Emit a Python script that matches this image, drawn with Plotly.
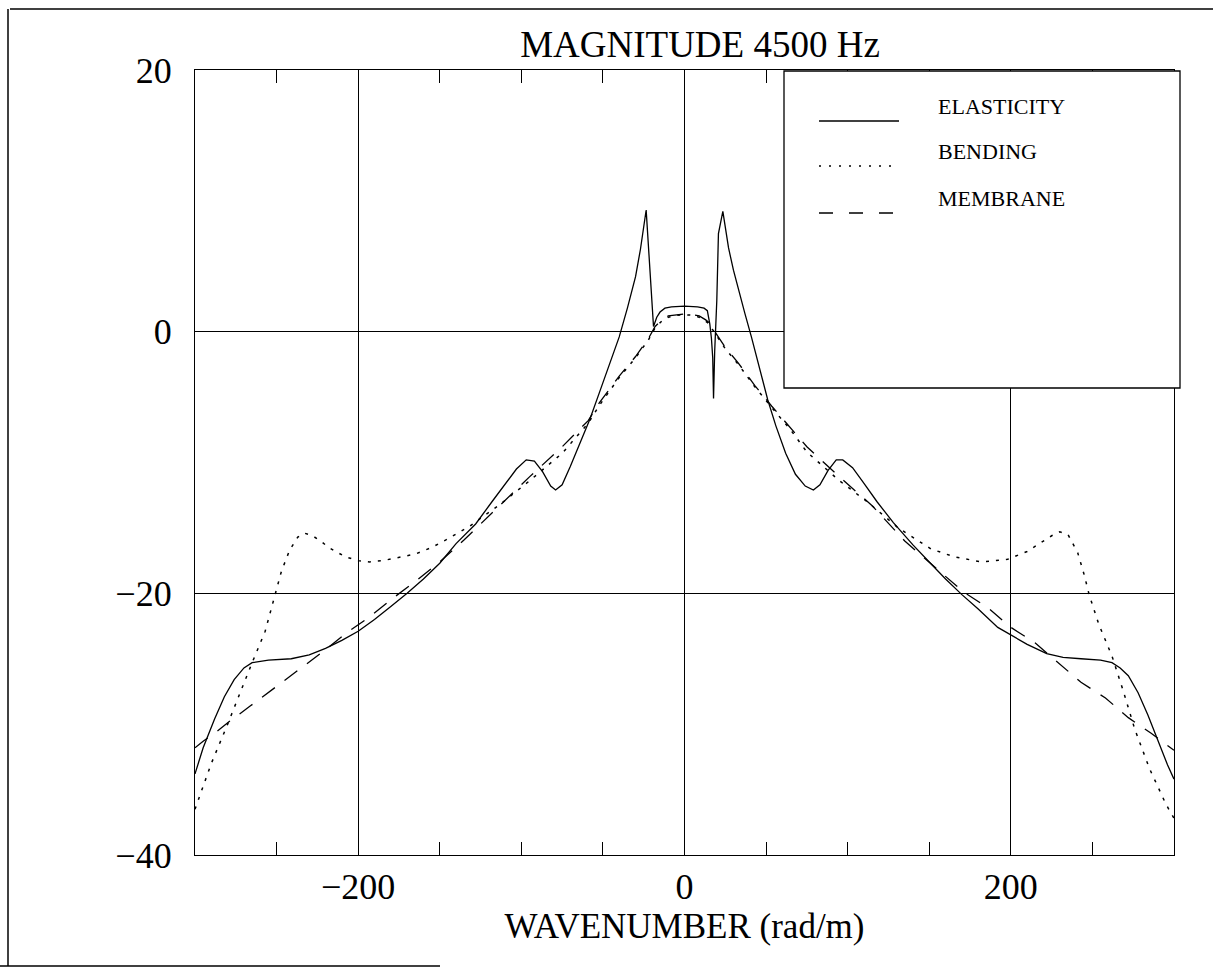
import plotly.graph_objects as go

# ---------------- data ----------------
elast_k = [-300, -295, -288, -282, -276, -270, -265, -255, -241, -230, -220, -210, -200,
           -190, -180, -170, -160, -150, -140, -128, -118, -110, -103, -97, -92, -87,
           -82, -79, -75, -70, -64, -58, -52, -46, -40, -35, -30, -27, -25, -23.5,
           -19, -17, -15, -12, -8, 0, 8, 12, 14, 15.5, 16.5, 17.3, 17.8, 18.5, 19.8,
           20.8, 23.5, 27, 30, 33, 37, 41, 46, 51, 56, 62, 68, 74, 79, 83, 88, 93, 97,
           103, 110, 118, 128, 140, 150, 160, 170, 180, 192, 200, 210, 222, 232, 243,
           255, 262, 267, 272, 278, 284, 290, 296, 300]
elast_v = [-33.8, -31.8, -29.6, -27.9, -26.6, -25.7, -25.3, -25.1, -25.0, -24.7, -24.2,
           -23.6, -22.9, -22.0, -21.0, -20.0, -18.9, -17.7, -16.2, -14.7, -13.0, -11.7,
           -10.5, -9.8, -9.9, -10.7, -11.8, -12.1, -11.7, -10.3, -8.5, -6.7, -4.6, -2.5,
           -0.4, 1.8, 4.2, 6.3, 8.0, 9.3,
           0.4, 1.1, 1.5, 1.8, 1.9, 1.95, 1.9, 1.8, 1.6, 0.6, -0.5, -2.0, -5.1, -1.5, 2.4,
           7.5, 9.2, 6.4, 4.7, 3.2, 1.4, -0.4, -2.8, -5.2, -7.2, -9.3, -10.9, -11.8,
           -12.1, -11.7, -10.6, -9.8, -9.8, -10.4, -11.6, -13.0, -14.6, -16.3, -17.6,
           -18.9, -20.1, -21.2, -22.6, -23.2, -23.9, -24.6, -24.9, -25.0, -25.1, -25.3,
           -25.7, -26.3, -27.6, -29.3, -31.2, -33.1, -34.2]

bend_k = [-300, -298, -290, -280, -270, -265, -257, -252, -247, -242, -237, -233, -228,
          -223, -218, -208, -200, -193, -185, -177, -165, -155, -146, -132, -112, -95,
          -75, -59, -52, -40, -30, -22, -18, -14, -10, -5, 0, 5, 9, 13, 15, 17, 19, 25,
          33, 43, 53.5, 65, 75, 95, 112, 131, 151, 165, 182, 198, 210, 219, 225, 230,
          235, 241, 245, 248, 254, 262, 269, 276, 285, 295, 300]
bend_v = [-36.5, -35.8, -33.0, -30.0, -26.8, -25.3, -22.9, -20.5, -18.3, -16.7, -15.7,
          -15.4, -15.6, -16.0, -16.5, -17.2, -17.5, -17.6, -17.5, -17.3, -17.0, -16.5,
          -15.9, -14.9, -13.1, -11.4, -9.3, -7.0, -5.6, -3.5, -2.0, -0.6, 0.3, 0.8, 1.1,
          1.25, 1.3, 1.25, 1.1, 0.8, 0.6, 0.2, -0.2, -1.3, -2.5, -4.2, -5.8, -7.5, -9.2,
          -11.4, -13.0, -15.0, -16.6, -17.2, -17.6, -17.4, -16.8, -16.1, -15.6, -15.3,
          -15.5, -16.9, -18.6, -20.1, -22.4, -24.8, -27.5, -30.4, -33.4, -36.1, -37.2]

memb_k = [-300, -295, -287, -279, -266, -251, -236, -222, -208, -193, -179, -164, -150,
          -135, -115, -95, -75, -59, -52, -40, -30, -22, -18, -14, -10, -5, 0, 5, 9, 13,
          15, 17, 19, 25, 33, 43, 53.5, 65, 75, 95, 115, 135, 155, 171, 186, 200, 215,
          229, 243, 258, 272, 286, 300]
memb_v = [-31.8, -31.3, -30.6, -29.8, -28.6, -27.2, -25.8, -24.5, -23.1, -21.8, -20.4,
          -19.0, -17.6, -15.9, -13.5, -11.1, -8.8, -6.8, -5.4, -3.4, -1.9, -0.5, 0.4,
          0.9, 1.2, 1.3, 1.35, 1.3, 1.2, 0.9, 0.7, 0.3, -0.1, -1.2, -2.4, -4.1, -5.7,
          -7.4, -8.8, -11.1, -13.3, -16.0, -18.2, -19.9, -21.1, -22.6, -23.8, -25.3,
          -26.8, -28.0, -29.5, -30.7, -32.0]

series_names = ["ELASTICITY", "BENDING", "MEMBRANE"]
x_tick_vals = [-200, 0, 200]
x_tick_text = ["\u2212200", "0", "200"]
x_minor_ticks = [-250, -150, -100, -50, 50, 100, 150, 250]
y_tick_vals = [-40, -20, 0, 20]
y_tick_text = ["\u221240", "\u221220", "0", "20"]

# ---------------- figure ----------------
FONT = "Liberation Serif"
W, H = 1213, 970
ML, MR, MT, MB = 195, 39, 70, 115
pw, ph = W - ML - MR, H - MT - MB


def px(xp):
    return (xp - ML) / pw


def py(yp):
    return (H - MB - yp) / ph


fig = go.Figure()
styles = [dict(dash="solid", width=1.3),
          dict(dash="3px,7px", width=1.5),
          dict(dash="16px,12px", width=1.3)]
for name, kk, vv, st in zip(series_names, [elast_k, bend_k, memb_k],
                            [elast_v, bend_v, memb_v], styles):
    fig.add_trace(go.Scatter(x=kk, y=vv, mode="lines", name=name, showlegend=False,
                             line=dict(color="black", **st)))

# x ticks: every 50 as inside ticks (mirrored), grid at labelled values via minor
all_x_ticks = sorted(x_minor_ticks + x_tick_vals)
all_x_text = [x_tick_text[x_tick_vals.index(v)] if v in x_tick_vals else "" for v in all_x_ticks]

fig.update_xaxes(range=[-300, 300], tickmode="array", tickvals=all_x_ticks,
                 ticktext=all_x_text, ticks="inside", ticklen=13, tickwidth=1,
                 tickcolor="black", showgrid=False, zeroline=False, showline=True,
                 linecolor="black", linewidth=1.3, mirror="ticks",
                 tickfont=dict(family=FONT, size=36, color="black"),
                 ticklabelstandoff=0,
                 minor=dict(tickmode="array", tickvals=x_tick_vals, showgrid=True,
                            gridcolor="black", gridwidth=1, ticks=""),
                 title=dict(text="WAVENUMBER (rad/m)", standoff=0,
                            font=dict(family=FONT, size=35, color="black")))
fig.update_yaxes(range=[-40, 20], tickmode="array", tickvals=y_tick_vals,
                 ticktext=y_tick_text, ticks="", showgrid=True, gridcolor="black",
                 gridwidth=1, zeroline=False, showline=True, linecolor="black",
                 linewidth=1.3, mirror=True, ticklabelstandoff=15,
                 tickfont=dict(family=FONT, size=36, color="black"))

shapes = []
# legend box (opaque, above the grid)
shapes.append(dict(type="rect", xref="paper", yref="paper", x0=px(784), x1=px(1180),
                   y0=py(388), y1=py(71), line=dict(color="black", width=1.3),
                   fillcolor="white", layer="above"))
leg_y = [121, 166, 213]
leg_dash = ["solid", "2px,8px", "14px,16px"]
for st, dsh, yy in zip(styles, leg_dash, leg_y):
    shapes.append(dict(type="line", xref="paper", yref="paper", x0=px(819), x1=px(899),
                       y0=py(yy), y1=py(yy), layer="above",
                       line=dict(color="black", width=st["width"], dash=dsh)))
# scanned page border lines
shapes.append(dict(type="line", xref="paper", yref="paper", x0=px(10), x1=px(1213),
                   y0=py(9), y1=py(9), line=dict(color="black", width=1.5)))
shapes.append(dict(type="line", xref="paper", yref="paper", x0=px(8), x1=px(8),
                   y0=py(9), y1=py(966), line=dict(color="black", width=1.5)))
shapes.append(dict(type="line", xref="paper", yref="paper", x0=px(0), x1=px(440),
                   y0=py(966), y1=py(966), line=dict(color="black", width=1.5)))

annotations = []
for name, yy in zip(series_names, leg_y):
    annotations.append(dict(text=name, xref="paper", yref="paper", x=px(936), y=py(yy),
                            xanchor="left", yanchor="bottom", showarrow=False,
                            font=dict(family=FONT, size=22, color="black")))

fig.update_layout(
    width=W, height=H, autosize=False,
    margin=dict(l=ML, r=MR, t=MT, b=MB),
    paper_bgcolor="white", plot_bgcolor="white",
    title=dict(text="MAGNITUDE 4500 Hz", x=700 / W, xanchor="center",
               y=1 - 44 / H, yanchor="middle",
               font=dict(family=FONT, size=37, color="black")),
    shapes=shapes, annotations=annotations, showlegend=False,
)

fig.write_html("out.html")
